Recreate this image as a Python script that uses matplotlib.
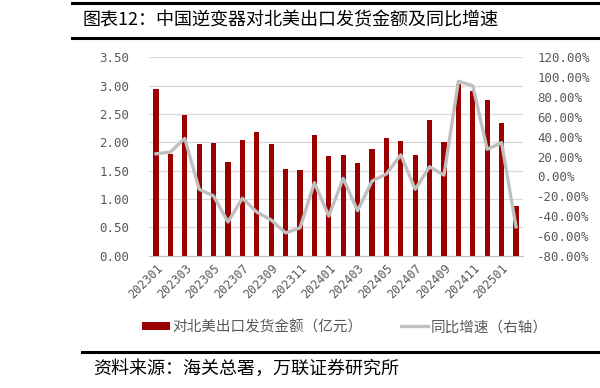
import matplotlib
matplotlib.use('Agg')
import matplotlib.pyplot as plt
from matplotlib.lines import Line2D
from matplotlib.patches import Patch

plt.rcParams['font.family'] = ['Noto Sans CJK SC', 'DejaVu Sans']
plt.rcParams['axes.unicode_minus'] = False

# data
months = ['202301', '202302', '202303', '202304', '202305', '202306', '202307',
          '202308', '202309', '202310', '202311', '202312', '202401', '202402',
          '202403', '202404', '202405', '202406', '202407', '202408', '202409',
          '202410', '202411', '202412', '202501', '202502']
amount = [2.95, 1.79, 2.48, 1.98, 1.99, 1.65, 2.05, 2.18, 1.98, 1.53, 1.51, 2.13, 1.76,
          1.77, 1.64, 1.89, 2.08, 2.02, 1.78, 2.40, 2.01, 3.03, 2.90, 2.74, 2.35, 0.88]
yoy = [22.8, 24.5, 38.3, -13.0, -19.8, -46.0, -22.0, -36.0, -44.0, -57.0, -52.0, -6.4, -40.0,
       -2.0, -34.6, -4.7, 2.4, 21.8, -13.0, 9.7, 1.3, 96.0, 91.4, 27.3, 34.0, -50.8]
left_ticks = [0, 0.5, 1.0, 1.5, 2.0, 2.5, 3.0, 3.5]
right_ticks = [-80, -60, -40, -20, 0, 20, 40, 60, 80, 100, 120]

bar_color = '#9B0000'
line_color = '#BFBFBF'
tick_color = '#595959'
mono = 'DejaVu Sans Mono'

fig = plt.figure(figsize=(6, 3.88), dpi=100)
ax = fig.add_axes([0.248, 0.341, 0.624, 0.511])
ax2 = ax.twinx()

x = list(range(len(months)))
ax.bar(x, amount, width=0.36, color=bar_color, zorder=2)
ax2.plot(x, yoy, color=line_color, linewidth=2.4, zorder=3)

ax.set_xlim(-0.5, len(months) - 0.5)
ax.set_ylim(0, 3.5)
ax2.set_ylim(-80, 120)

ax.set_axisbelow(True)
ax.grid(axis='y', color='#D9D9D9', linewidth=0.9)

ax.set_yticks(left_ticks, ['%.2f' % v for v in left_ticks],
              fontfamily=mono, fontsize=9, color=tick_color)
ax2.set_yticks(right_ticks, ['%.2f%%' % v for v in right_ticks],
               fontfamily=mono, fontsize=9, color=tick_color)
ax.set_xticks(x[::2], months[::2], fontfamily=mono, fontsize=8.5, color=tick_color,
              rotation=45, ha='right', rotation_mode='anchor')
ax.tick_params(axis='y', length=0, pad=14)
ax2.tick_params(axis='y', length=0, pad=10)
ax.tick_params(axis='x', length=0, pad=4)

for a in (ax, ax2):
    for s in ('top', 'left', 'right'):
        a.spines[s].set_visible(False)
ax2.spines['bottom'].set_visible(False)
ax.spines['bottom'].set_color('#BFBFBF')

handles = [Patch(facecolor=bar_color, edgecolor='none'),
           Line2D([0], [0], color=line_color, linewidth=2.4)]
fig.legend(handles, ['对北美出口发货金额（亿元）', '同比增速（右轴）'],
           loc='center', bbox_to_anchor=(0.575, 1 - 327 / 388), ncol=2, frameon=False,
           fontsize=10.5, labelcolor=tick_color, handlelength=1.9, handleheight=0.5,
           handletextpad=0.2, columnspacing=2.6)

# title and source frame
fig.add_artist(Line2D([72 / 600, 1], [1 - 3 / 388] * 2, color='black', linewidth=2.2))
fig.add_artist(Line2D([72 / 600, 1], [1 - 38 / 388] * 2, color='black', linewidth=2.2))
fig.text(83 / 600, 1 - 20 / 388, '图表12：中国逆变器对北美出口发货金额及同比增速',
         fontsize=13, va='center', ha='left', color='black')
fig.add_artist(Line2D([82 / 600, 1], [1 - 352 / 388] * 2, color='black', linewidth=2.2))
fig.text(93 / 600, 1 - 369 / 388, '资料来源：海关总署，万联证券研究所',
         fontsize=13, va='center', ha='left', color='black', style='italic')

fig.savefig('out.png', dpi=100)
